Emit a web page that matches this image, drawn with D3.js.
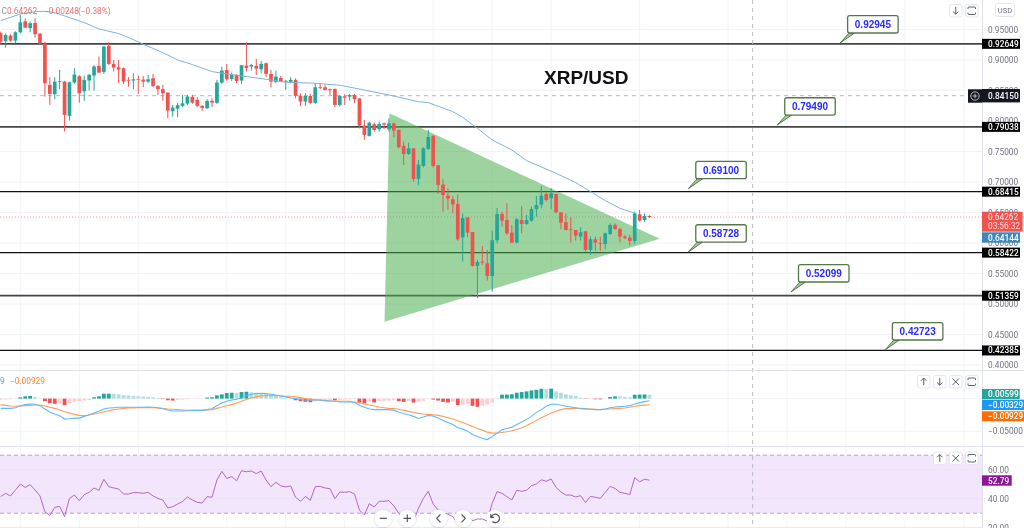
<!DOCTYPE html>
<html><head><meta charset="utf-8">
<script src="https://cdn.jsdelivr.net/npm/d3@7"></script>
<style>html,body{margin:0;padding:0;background:#fff}svg{display:block;filter:blur(.35px)}text{font-family:Roboto,"Liberation Sans",sans-serif}</style>
</head><body><svg id="c" width="1024" height="528"></svg>
<script>
const open=[.9438,.9307,.9400,.9318,.9454,.9635,.9525,.9607,.9433,.9269,
.8592,.8439,.8641,.8646,.8084,.8630,.8734,.8488,.8663,.8745,
.8903,.8805,.9231,.8936,.8881,.8865,.8674,.8663,.8684,.8679,
.8646,.8701,.8575,.8521,.8466,.8160,.8204,.8248,.8286,.8395,
.8346,.8248,.8209,.8330,.8297,.8630,.8837,.8690,.8756,.8663,
.8908,.8892,.8903,.8848,.8947,.8772,.8641,.8706,.8652,.8641,
.8674,.8411,.8319,.8411,.8297,.8553,.8553,.8521,.8526,.8264,
.8404,.8399,.8426,.8371,.7924,.7755,.7946,.7864,.7962,.7864,
.7962,.7853,.7591,.7460,.7552,.7050,.7263,.7542,.7755,.7274,
.6957,.6776,.6716,.6640,.6094,.6421,.6181,.5624,.5695,.5668,
.5460,.6045,.6476,.6378,.6170,.6006,.6378,.6312,.6367,.6558,
.6629,.6804,.6733,.6804,.6503,.6340,.6225,.6214,.6105,.6192,
.5886,.6061,.5996,.5985,.6148,.6296,.6230,.6105,.6088,.6034,.6471,.6378,.6443];
const high=[.9465,.9438,.9422,.9471,.9738,.9684,.9629,.9684,.9438,.9301,
.8717,.8717,.8837,.8657,.8646,.8865,.8750,.8745,.8772,.8919,
.9056,.9231,.9291,.9001,.9001,.8876,.8717,.8783,.8745,.8739,
.8755,.8772,.8592,.8592,.8466,.8264,.8302,.8428,.8428,.8428,
.8390,.8264,.8357,.8373,.8674,.8892,.8936,.8794,.8772,.8919,
.9291,.8936,.9018,.8985,.8958,.8837,.8826,.8739,.8674,.8717,
.8701,.8455,.8455,.8444,.8619,.8608,.8592,.8532,.8532,.8428,
.8437,.8442,.8442,.8371,.8017,.7989,.7973,.7989,.7973,.8044,
.7973,.7864,.7662,.7645,.7552,.7361,.7569,.7853,.7771,.7279,
.7045,.6896,.6771,.6798,.6487,.6421,.6181,.5723,.5952,.5886,
.6203,.6574,.6514,.6651,.6296,.6405,.6607,.6460,.6596,.6771,
.6935,.6825,.6896,.6804,.6503,.6487,.6421,.6214,.6258,.6192,
.6105,.6105,.6105,.6170,.6323,.6323,.6252,.6132,.6132,.6514,.6542,.6487,.6454];
const low=[.9263,.9203,.9301,.9274,.9438,.9520,.9454,.9367,.9252,.8401,
.8264,.8357,.8521,.7827,.8007,.8608,.8302,.8330,.8499,.8499,
.8783,.8772,.8919,.8810,.8619,.8608,.8564,.8521,.8444,.8553,
.8619,.8553,.8428,.8330,.8046,.8073,.8062,.8226,.8259,.8280,
.8226,.8166,.8193,.8226,.8280,.8608,.8663,.8657,.8619,.8608,
.8810,.8826,.8755,.8783,.8717,.8548,.8619,.8641,.8510,.8619,
.8373,.8248,.8248,.8280,.8280,.8521,.8499,.8428,.8226,.8237,
.8262,.8333,.8290,.7880,.7689,.7744,.7826,.7826,.7864,.7826,
.7733,.7552,.7279,.7443,.7006,.6952,.7241,.7525,.7241,.6804,
.6514,.6542,.6487,.6034,.5695,.6094,.5613,.5095,.5641,.5384,
.5204,.5996,.6269,.6132,.5996,.5996,.6159,.6296,.6350,.6432,
.6569,.6678,.6553,.6487,.6225,.6203,.6006,.6039,.6039,.5859,
.5804,.5870,.5870,.5897,.6132,.6214,.6012,.6061,.5957,.5985,.6350,.6350,.6410];
const close=[.9301,.9411,.9318,.9454,.9618,.9531,.9602,.9422,.9269,.8619,
.8444,.8646,.8652,.8100,.8635,.8761,.8455,.8674,.8756,.8892,
.8794,.9220,.8936,.8876,.8843,.8646,.8668,.8684,.8674,.8646,
.8684,.8575,.8521,.8455,.8171,.8220,.8259,.8291,.8401,.8302,
.8248,.8215,.8330,.8302,.8630,.8827,.8684,.8761,.8657,.8914,
.8870,.8919,.8859,.8936,.8772,.8646,.8728,.8652,.8657,.8674,
.8411,.8319,.8411,.8297,.8553,.8543,.8510,.8504,.8264,.8411,
.8382,.8426,.8355,.7924,.7771,.7973,.7853,.7951,.7940,.7962,
.7842,.7569,.7460,.7552,.7050,.7285,.7552,.7738,.7263,.6952,
.6787,.6727,.6634,.6061,.6411,.6170,.5624,.5690,.5679,.5460,
.6045,.6476,.6367,.6159,.6006,.6389,.6312,.6378,.6558,.6623,
.6776,.6705,.6815,.6503,.6334,.6214,.6219,.6121,.6176,.5886,
.6061,.6006,.5985,.6159,.6296,.6230,.6105,.6083,.6034,.6487,.6367,.6443,.6426];

// moving average, read at these bars
const maBars=[0,4,7,9,11,14,17,20,24,27,29,33,36,39,43,46,49,54,58,64,69,74,79,85,87,92,94,97,100,104,107,113,117,120,123,126,129];
const maVals=[.9645,.9755,.9793,.9798,.9777,.9695,.9613,.9509,.9433,.9334,.9258,.9121,.9001,.8925,.8810,.8772,.8739,.8684,.8635,.8619,.8586,.8508,.8426,.8317,.8301,.8153,.8060,.7880,.7689,.7525,.7350,.7143,.6990,.6843,.6695,.6570,.6488];

// MACD pane values, in thousandths
const macdLine=[-14.9,-14.9,-14.9,-13.9,-10.8,-9.2,-8.2,-8.7,-10.8,-15.9,
-20.5,-23.6,-26.2,-31.3,-30.8,-29.8,-29.8,-27.2,-24.6,-22.1,
-19.5,-15.9,-14.4,-13.9,-13.3,-13.3,-13.3,-13.3,-13.3,-13.3,
-12.8,-13.3,-13.9,-15.4,-17.4,-19,-19,-19,-18.5,-18,
-18,-18,-16.9,-15.4,-10.8,-6.7,-4.1,-2.1,-1,1,
4.6,6.7,7.7,8.2,7.7,6.7,5.6,4.1,2.6,1,
0,-1.5,-2.6,-2.6,-2.1,-2.1,-3.1,-3.6,-4.1,-5.1,
-5.1,-5.1,-5.6,-10.3,-13.3,-15.9,-16.9,-16.9,-16.9,-16.9,
-18,-20.5,-23.1,-24.6,-27.2,-30.3,-28.2,-25.7,-26.7,-29.8,
-33.3,-36.4,-39.5,-44.6,-46.7,-49.8,-54.9,-58,-60.5,-62.6,
-58,-52.8,-47.7,-45.7,-43.6,-39.5,-35.9,-31.8,-27.2,-21,
-16.9,-11.8,-8.7,-8.7,-10.3,-11.8,-12.8,-13.9,-15.4,-15.9,
-16.4,-16.9,-16.9,-15.9,-13.9,-12.8,-12.3,-11.8,-10.8,-8.2,-6.2,-4.6,-3.3];
const signalLine=[-9.2,-10.3,-11.3,-11.8,-11.3,-10.8,-10.3,-9.7,-9.7,-11.3,
-13.3,-14.9,-17.4,-20,-22.1,-24.1,-25.7,-26.2,-25.1,-23.6,
-22.1,-20,-18.5,-16.9,-15.9,-14.9,-14.4,-14.4,-13.9,-13.9,
-13.9,-13.9,-14.4,-14.9,-15.9,-16.4,-16.9,-17.4,-18,-18,
-18,-18,-17.4,-16.9,-14.9,-12.8,-10.8,-9.2,-6.7,-4.1,
-1.5,1,2.6,4.1,4.6,5.1,4.6,4.1,3.6,3.1,
2.6,1.5,0,-1.5,-2.1,-2.6,-3.1,-3.6,-3.6,-4.1,
-4.1,-4.1,-5.1,-6.7,-8.2,-9.7,-11.3,-12.8,-13.9,-14.9,
-15.4,-16.4,-18,-19.5,-21,-22.6,-23.6,-24.1,-24.6,-25.7,
-27.2,-29.2,-31.3,-33.9,-36.4,-39.5,-42.6,-45.7,-48.2,-51.3,
-52.8,-52.8,-51.8,-50.8,-49.2,-47.2,-44.6,-41.5,-37.4,-33.3,
-29.2,-25.7,-22.1,-19.5,-16.9,-15.4,-15.4,-14.9,-14.9,-15.4,
-15.9,-16.4,-16.9,-16.4,-15.9,-15.4,-14.9,-14.4,-13.3,-11.8,-10.8,-10,-9.3];
const macdHist=[-2,-1.5,-1,-.5,2,3.5,4,2.5,.5,-4,
-7,-8,-7,-10,-7,-5,-4,-3,-2,2,
3.5,7.5,7.5,7,6.5,5.5,5,4,3.5,3,
2.5,2,1,-.5,-2.5,-3,-2,-1.5,-1,-.5,
-.5,-.3,1.5,2,5,6.5,8.5,9,8.8,10,
10.5,9.5,9,8.5,7.5,6,4,2,1,.2,
-2.5,-4,-5,-5.5,-4,-3,-2.5,-2,-2.5,-2,
-1.5,-1.2,-1,-6,-7,-5,-6,-4,-3.5,-3,
-2.5,-4,-5,-4,-6,-5,-3.5,-1,-1.5,-3,
-5,-6,-5,-10,-9,-8,-11,-12.5,-11,-9,
-6,-.5,6,6.2,6.7,9,10,11,12.5,13.5,
15,14.8,15.2,11,9,6.5,5,4,1.5,-.5,
-.4,-1,-1.2,0,2.5,3.5,3.4,2.5,2,6,6.2,6.3,6];

const rsi=[41.4,43.7,41.9,46,50.1,47.8,49.7,46,41.9,31,
28.5,34,34.7,27.6,40.2,42.5,38.6,42.8,44.4,47.4,
45.8,53.4,48.3,47.4,46.7,43.2,43.2,44.2,44.2,43.7,
44.4,41.9,40.2,39.1,33.6,34.5,36.3,38,41.2,39.1,
37.5,37,41.4,41,52.9,58.9,54,55.2,52.4,59.3,
58.6,59.1,57.3,59.1,52.9,48.3,51.3,48.8,48.1,48.8,
41,38.2,41.6,38.9,48.3,48.5,47.4,46.9,40,44.6,
44.4,44.9,43.2,32.2,28.8,36.6,34.3,38.2,38.2,38.6,
35,29.9,25.3,27.6,24.2,33.4,40.2,45.1,36.3,32.2,
30.4,29.4,27.6,23,28.8,29.4,24.8,26,26,24.6,
36.8,44.9,43.7,41.4,39.1,45.8,45.1,45.8,49,50.1,
53.1,52,53.6,47.8,44.6,42.5,42.5,41.2,42.1,37.3,
41.6,41,40.2,44.4,48.5,47.1,44.4,43.7,42.8,54.5,51.7,53.4,52.79];

const levels=[.92649,.79038,.68415,.58422,.51359,.42385];
const levelLabels=["0.92649","0.79038","0.68415","0.58422","0.51359","0.42385"];
const heavyLevels=[.92649,.79038,.51359];
const calloutTexts=["0.92945","0.79490","0.69100","0.58728","0.52099","0.42723"];
const calloutBars=[170.8,158,139.9,139.9,160.8,179.9];
const calloutPrices=[.9279,.7934,.6890,.5852,.5197,.4246];
const triangleBars=[79.1,78.1,134.1];
const trianglePrices=[.8126,.4710,.6070];
const priceTicks=[.95,.90,.85,.80,.75,.70,.65,.60,.55,.50,.45,.40];
const macdTicks=[-50];
const rsiTicks=[60,40,20];
const gridBars=[4,16,28,46,58,70,88,100,112,130,148,160,172,184,196];
const crossBar=153, crossPrice=.8415, lastPrice=.64262;

const W=982,H=528,RED="#ef5350",GREEN="#26a69a",FS=8.3;
const x=d3.scaleLinear().domain([0,132]).range([.67,649.45]);
const y=d3.scaleLinear().domain([.95,.40]).range([29.5,365]);
const yM=d3.scaleLinear().domain([0,-50]).range([398.6,431.3]);
const yR=d3.scaleLinear().domain([60,40]).range([469.7,498.7]);
const svg=d3.select("#c");
const defs=svg.append("defs");
const sh=defs.append("filter").attr("id","sh").attr("x","-40%").attr("y","-40%").attr("width","180%").attr("height","180%");
sh.append("feDropShadow").attr("dx",0).attr("dy",.5).attr("stdDeviation",1.3).attr("flood-color","#000").attr("flood-opacity",.22);

// grid
const grid=svg.append("g").attr("stroke","#f0f3fa").attr("stroke-width",1);
grid.selectAll(".gv").data(gridBars).join("line").attr("x1",d=>x(d)).attr("x2",d=>x(d)).attr("y1",0).attr("y2",H);
grid.selectAll(".gh").data(priceTicks).join("line").attr("x1",0).attr("x2",W).attr("y1",d=>y(d)).attr("y2",d=>y(d));
grid.selectAll(".gm").data([0,-50]).join("line").attr("x1",0).attr("x2",W).attr("y1",d=>yM(d)).attr("y2",d=>yM(d));

// RSI band
svg.append("rect").attr("x",0).attr("width",W).attr("y",yR(70)).attr("height",yR(30)-yR(70)).attr("fill","#f3e5fc");
svg.selectAll(".rg").data(rsiTicks).join("line").attr("x1",0).attr("x2",W).attr("y1",d=>yR(d)).attr("y2",d=>yR(d)).attr("stroke","#e9e3f3");
svg.selectAll(".rb").data([70,30]).join("line").attr("x1",0).attr("x2",W).attr("y1",d=>yR(d)).attr("y2",d=>yR(d))
  .attr("stroke","#b9a3c8").attr("stroke-dasharray","4 3");

// levels
svg.selectAll(".lv").data(levels).join("line").attr("x1",0).attr("x2",W).attr("y1",d=>y(d)).attr("y2",d=>y(d))
  .attr("stroke",d=>heavyLevels.includes(d)?"#444":"#111").attr("stroke-width",d=>heavyLevels.includes(d)?1.7:1.3);
svg.append("line").attr("x1",0).attr("x2",W).attr("y1",y(crossPrice)).attr("y2",y(crossPrice)).attr("stroke","#b8bbc3").attr("stroke-dasharray","4 4");
svg.append("line").attr("x1",0).attr("x2",W).attr("y1",y(lastPrice)).attr("y2",y(lastPrice)).attr("stroke",RED).attr("stroke-opacity",.6).attr("stroke-dasharray","1 2");

// triangle
svg.append("polygon").attr("points",triangleBars.map((b,i)=>[x(b),y(trianglePrices[i])].join(",")).join(" "))
  .attr("fill","#4caf50").attr("fill-opacity",.55);

// candles
const idx=d3.range(open.length);
const col=i=>close[i]>=open[i]?GREEN:RED;
svg.append("g").selectAll("line").data(idx).join("line").attr("x1",i=>x(i)).attr("x2",i=>x(i))
  .attr("y1",i=>y(high[i])).attr("y2",i=>y(low[i])).attr("stroke",col).attr("stroke-width",1);
svg.append("g").selectAll("rect").data(idx).join("rect").attr("x",i=>x(i)-1.85).attr("width",3.7)
  .attr("y",i=>y(Math.max(open[i],close[i]))).attr("height",i=>Math.max(.8,Math.abs(y(open[i])-y(close[i])))).attr("fill",col);

// moving average
svg.append("path").attr("fill","none").attr("stroke","#7fb3d9").attr("stroke-width",1)
  .attr("d",d3.line().x(i=>x(maBars[i])).y(i=>y(maVals[i]))(d3.range(maBars.length)));

// crosshair vertical
svg.append("line").attr("x1",x(crossBar)).attr("x2",x(crossBar)).attr("y1",0).attr("y2",H).attr("stroke","#b8bbc3").attr("stroke-dasharray","4 4");

// callouts
calloutTexts.forEach((t,i)=>{
  const tx=x(calloutBars[i]),ty=y(calloutPrices[i]);
  const g=svg.append("g");
  const bx=tx+7.5,bb=ty-10,bw=50.5,bh=17.3;
  g.append("path").attr("d",`M${tx},${ty}L${bx+1.5},${bb}L${bx+7},${bb}Z`).attr("fill","#a9c79f").attr("stroke","#55784a").attr("stroke-width",1);
  g.append("rect").attr("x",bx).attr("y",bb-bh).attr("width",bw).attr("height",bh).attr("rx",2).attr("fill","#fff").attr("stroke","#55784a").attr("stroke-width",1.3);
  g.append("text").attr("x",bx+bw/2).attr("y",bb-bh/2+3.6).attr("text-anchor","middle").attr("fill","#2a2aff")
    .attr("font-size",10).attr("font-weight",700).style("font-family",'"Liberation Sans",sans-serif').text(t);
});

svg.append("text").attr("x",544).attr("y",84).attr("font-size",19).attr("font-weight",700).attr("fill","#111")
  .style("font-family",'"Liberation Sans",sans-serif').text("XRP/USD");

// legend
const leg=[["C",1.5,"#787b86"],["0.64262",7,RED],["−0.00248",44,RED],["(−0.38%)",78,RED]];
svg.selectAll(".lg").data(leg).join("text").attr("x",d=>d[1]).attr("y",14).attr("font-size",FS).attr("fill",d=>d[2]).attr("fill-opacity",.85).text(d=>d[0]);

// MACD histogram
const hc=i=>{const v=macdHist[i],p=i?macdHist[i-1]:v;return v>=0?(v>=p?GREEN:"#b2dfdb"):(v<p?RED:"#ffcdd2");};
svg.append("g").selectAll("rect").data(idx).join("rect").attr("x",i=>x(i)-1.9).attr("width",3.8)
  .attr("y",i=>Math.min(yM(0),yM(macdHist[i]))).attr("height",i=>Math.abs(yM(macdHist[i])-yM(0))).attr("fill",hc);
const lm=d3.line().x((d,i)=>x(i)).y(d=>yM(d));
svg.append("path").attr("fill","none").attr("stroke","#ff9d5c").attr("stroke-width",1.1).attr("d",lm(signalLine));
svg.append("path").attr("fill","none").attr("stroke","#62b8fb").attr("stroke-width",1.1).attr("d",lm(macdLine));
svg.append("text").attr("x",0).attr("y",384).attr("font-size",FS).attr("fill","#2196f3").attr("fill-opacity",.85).text("9");
svg.append("text").attr("x",10).attr("y",384).attr("font-size",FS).attr("fill","#ff6d00").attr("fill-opacity",.85).text("−0.00929");

// RSI line
svg.append("path").attr("fill","none").attr("stroke","#b268c8").attr("stroke-width",1)
  .attr("d",d3.line().x((d,i)=>x(i)).y(d=>yR(d))(rsi));

// panes separators
const sep=svg.append("g").attr("stroke","#e0e3eb");
sep.append("line").attr("x1",0).attr("x2",1024).attr("y1",370.5).attr("y2",370.5);
sep.append("line").attr("x1",0).attr("x2",1024).attr("y1",446.5).attr("y2",446.5);
sep.append("line").attr("x1",982.5).attr("x2",982.5).attr("y1",0).attr("y2",H);

// right axes
const axStyle=g=>{g.select(".domain").remove();g.selectAll("line").remove();
  g.selectAll("text").attr("x",0).attr("fill","#6f7380").attr("font-size",FS).style("font-family",'Roboto,sans-serif');};
svg.append("g").attr("transform","translate(988,0)").call(d3.axisRight(y).tickValues(priceTicks).tickFormat(d3.format(".5f"))).call(axStyle);
svg.append("g").attr("transform","translate(988,0)").call(d3.axisRight(yM).tickValues(macdTicks).tickFormat(d=>"−"+d3.format(".5f")(-d/1000))).call(axStyle);
svg.append("g").attr("transform","translate(988,0)").call(d3.axisRight(yR).tickValues(rsiTicks).tickFormat(d3.format(".2f"))).call(axStyle);

// value tags
function tag(cy,w,h,fill,txt){
  svg.append("rect").attr("x",982).attr("y",cy-h/2).attr("width",w).attr("height",h).attr("fill",fill);
  svg.append("text").attr("x",988).attr("y",cy+3).attr("font-size",FS).attr("font-weight",500).attr("fill","#fff").text(txt);
}
levels.forEach((v,i)=>tag(y(v),38,10,"#000",levelLabels[i]));
svg.append("rect").attr("x",968).attr("y",89.3).attr("width",14).attr("height",13.4).attr("fill","#131722");
svg.append("circle").attr("cx",975).attr("cy",96).attr("r",4.2).attr("fill","none").attr("stroke","#dfe1e6").attr("stroke-width",.8);
svg.append("path").attr("d","M972.6,96H977.4M975,93.6V98.4").attr("stroke","#dfe1e6").attr("stroke-width",.8);
tag(y(crossPrice),38,13.4,"#131722","0.84150");
svg.append("rect").attr("x",982).attr("y",211.7).attr("width",40.6).attr("height",20).attr("fill",RED);
svg.append("text").attr("x",988).attr("y",220.2).attr("font-size",FS).attr("fill","#ffe9e8").text("0.64262");
svg.append("text").attr("x",988).attr("y",229.2).attr("font-size",FS).attr("fill","#ffd5d3").text("03:56:32");
tag(237.5,38,10.4,"#3d88b5","0.64144");
tag(394,37.7,10,GREEN,"0.00599");
tag(404.8,42,10.4,"#2196f3","−0.00329");
tag(416.3,42,10,"#ff6d00","−0.00929");
tag(480.5,29.7,10.4,"#8e1599","52.79");

// small square buttons
function btn(bx,by,kind){
  const g=svg.append("g").attr("transform",`translate(${bx},${by})`);
  g.append("rect").attr("x",.5).attr("y",.5).attr("width",12.5).attr("height",12.5).attr("rx",2).attr("fill","#fff").attr("stroke","#e4e6ec");
  const c="#4a4e59";
  const p={down:"M6.75,3V10M4,7.5L6.75,10.2L9.5,7.5",up:"M6.75,10.2V3.2M4,5.8L6.75,3L9.5,5.8",x:"M3.5,3.5L10,10M10,3.5L3.5,10",
    sq:"M3,5V3.8Q3,3 3.8,3H9.7Q10.5,3 10.5,3.8V5M3,8.5V9.7Q3,10.5 3.8,10.5H9.7Q10.5,10.5 10.5,9.7V8.5"}[kind];
  g.append("path").attr("d",p).attr("fill","none").attr("stroke",c).attr("stroke-width",.9);
}
btn(949,4,"down");btn(965,4,"sq");
btn(917,375,"up");btn(933,375,"down");btn(949,375,"x");btn(965,375,"sq");
btn(933,451.5,"up");btn(949,451.5,"x");btn(965,451.5,"sq");
svg.append("rect").attr("x",995.5).attr("y",3.5).attr("width",19).attr("height",13).attr("rx",2).attr("fill","#fff").attr("stroke","#e4e6ec");
svg.append("text").attr("x",1005).attr("y",12.8).attr("text-anchor","middle").attr("font-size",7.6).attr("fill","#6f7380").text("USD");

// round nav buttons
const nav=[[383.3,"M-3.6,0H3.6"],[407.3,"M-3.8,0H3.8M0,-3.8V3.8"],[438.7,"M1.8,-4L-2,0L1.8,4"],[463.3,"M-1.8,-4L2,0L-1.8,4"],[495,"M-3.6,-1.5A4.2,4.2 0 1 1 -2.6,3.2M-4.2,-4.4V-1H-0.9"]];
nav.forEach(n=>{const g=svg.append("g").attr("transform",`translate(${n[0]},518.3)`);
  g.append("circle").attr("r",8.6).attr("fill","#fff").attr("filter","url(#sh)");
  g.append("path").attr("d",n[1]).attr("fill","none").attr("stroke","#50535e").attr("stroke-width",1.2);});
</script></body></html>
